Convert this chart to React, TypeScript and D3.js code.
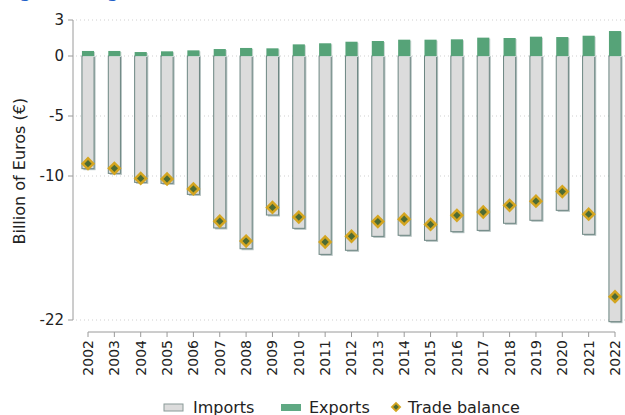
import React from "react";
import * as d3 from "d3";

const years = [
  "2002", "2003", "2004", "2005", "2006", "2007", "2008", "2009", "2010", "2011", "2012",
  "2013", "2014", "2015", "2016", "2017", "2018", "2019", "2020", "2021", "2022",
];
const imports = [
  -9.39, -9.78, -10.53, -10.61, -11.53, -14.33, -16.06, -13.25, -14.36, -16.53, -16.19,
  -15.03, -14.94, -15.36, -14.64, -14.53, -13.94, -13.69, -12.86, -14.86, -22.14,
];
const exports_ = [
  0.42, 0.42, 0.33, 0.39, 0.47, 0.58, 0.67, 0.64, 0.97, 1.06, 1.19,
  1.25, 1.36, 1.36, 1.39, 1.53, 1.5, 1.61, 1.58, 1.69, 2.08,
];
const balance = [
  -8.97, -9.36, -10.2, -10.25, -11.08, -13.77, -15.42, -12.62, -13.42, -15.5, -15.02,
  -13.8, -13.6, -14.04, -13.28, -13.0, -12.44, -12.1, -11.3, -13.18, -20.06,
];
const yTicks = [3, 0, -5, -10, -22];

const W = 625;
const H = 415;
const FONT = "'DejaVu Sans', sans-serif";

export default function App() {
  const x = d3.scalePoint<string>().domain(years).range([88, 615]);
  const y = d3.scaleLinear().domain([-22, 3]).range([320, 20]);
  const bw = x.step() * 0.46;
  const axisColor = "#9a9a9a";
  const diamond = d3.symbol().type(d3.symbolDiamond2).size(130)();
  const innerDiamond = d3.symbol().type(d3.symbolDiamond2).size(34)();

  return (
    <svg
      width={W}
      height={H}
      style={{ position: "absolute", left: 0, top: 0, background: "#fff" }}
      fontFamily={FONT}
    >
      {/* title, clipped at the top of the frame */}
      <text x={2} y={-3} fontSize={17} fontWeight="bold" fill="#1f5fc8">
        Figure 3. Agri-food trade
      </text>

      {/* grid */}
      {yTicks.map((t) => (
        <line
          key={"g" + t}
          x1={76}
          x2={W}
          y1={y(t)}
          y2={y(t)}
          stroke="#cfcfcf"
          strokeDasharray="1,3"
        />
      ))}

      {/* y axis */}
      <line x1={73} x2={73} y1={y(3)} y2={y(-22)} stroke={axisColor} />
      {yTicks.map((t) => (
        <g key={"t" + t} transform={`translate(0,${y(t)})`}>
          <line x1={68} x2={73} stroke={axisColor} />
          <text x={64} dy="0.35em" textAnchor="end" fontSize={15} fill="#222">
            {t}
          </text>
        </g>
      ))}
      <text
        transform={`translate(25,${y(-9.6)}) rotate(-90)`}
        textAnchor="middle"
        fontSize={16}
        fill="#222"
      >
        Billion of Euros (€)
      </text>

      {/* bars */}
      {years.map((yr, i) => {
        const cx = x(yr)!;
        const y0 = y(0);
        const yi = y(imports[i]);
        const ye = y(exports_[i]);
        return (
          <g key={yr}>
            <rect x={cx - bw / 2 + 1.5} y={y0} width={bw} height={yi - y0 + 1.5} fill="#b3c0bf" />
            <rect
              x={cx - bw / 2}
              y={y0}
              width={bw}
              height={yi - y0}
              fill="#dcdcdc"
              stroke="#6c8682"
              strokeWidth={1}
            />
            <rect x={cx - bw / 2 + 1} y={ye + 1} width={bw} height={y0 - ye} fill="#c9d6d2" />
            <rect x={cx - bw / 2} y={ye} width={bw} height={y0 - ye} fill="#56a378" />
          </g>
        );
      })}

      {/* trade balance */}
      {years.map((yr, i) => (
        <g key={"d" + yr} transform={`translate(${x(yr)},${y(balance[i])})`}>
          <path d={diamond!} fill="#d4a520" />
          <path d={innerDiamond!} fill="#4d6b34" />
        </g>
      ))}

      {/* x axis */}
      <line x1={x(years[0])} x2={x(years[years.length - 1])} y1={332} y2={332} stroke={axisColor} />
      {years.map((yr) => (
        <g key={"x" + yr} transform={`translate(${x(yr)},332)`}>
          <line y1={0} y2={5} stroke={axisColor} />
          <text
            transform="translate(0,8) rotate(-90)"
            textAnchor="end"
            dy="0.35em"
            fontSize={14}
            fill="#222"
          >
            {yr}
          </text>
        </g>
      ))}

      {/* legend */}
      <g transform="translate(0,407)">
        <rect x={164} y={-3} width={19} height={7} fill="#dcdcdc" stroke="#8a9a98" />
        <text x={193} y={6} fontSize={16} fill="#222">
          Imports
        </text>
        <rect x={281} y={-3} width={20} height={7} fill="#5fa983" />
        <text x={309} y={6} fontSize={16} fill="#222">
          Exports
        </text>
        <path d={diamond!} transform="translate(396,0) scale(0.75)" fill="#d4a520" />
        <path d={innerDiamond!} transform="translate(396,0) scale(0.75)" fill="#4d6b34" />
        <text x={408} y={6} fontSize={16} fill="#222">
          Trade balance
        </text>
      </g>
    </svg>
  );
}
